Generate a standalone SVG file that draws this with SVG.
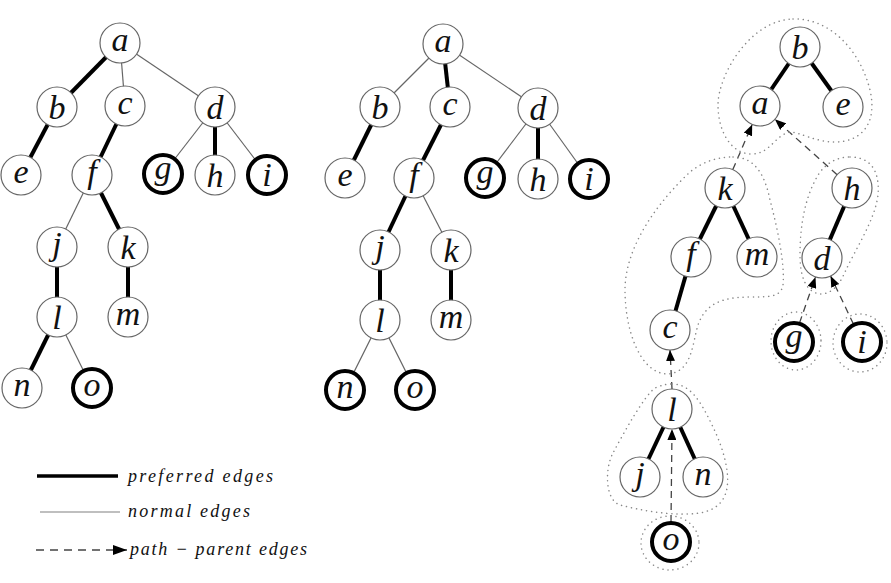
<svg xmlns="http://www.w3.org/2000/svg" width="891" height="583" viewBox="0 0 891 583">
<style>
.n circle{fill:#fff;stroke:#666;stroke-width:1.2}
.n.t circle{stroke:#000;stroke-width:4}
.n text{font-family:"Liberation Serif","Times New Roman",serif;font-style:italic;font-size:34px;text-anchor:middle;fill:#111}
.pe{stroke:#000;stroke-width:4;fill:none}
.ne{stroke:#666;stroke-width:1.2;fill:none}
.pp{stroke:#444;stroke-width:1.3;stroke-dasharray:7,5;fill:none}
.blob{fill:none;stroke:#888;stroke-width:1.5;stroke-dasharray:0.1,5;stroke-linecap:round}
.lg{font-family:"Liberation Serif","Times New Roman",serif;font-style:italic;font-size:18px;fill:#111}
</style>
<defs>
<marker id="arr" markerUnits="userSpaceOnUse" markerWidth="11" markerHeight="9" refX="11" refY="4.5" orient="auto">
<path d="M0,0 L11,4.5 L0,9 z" fill="#000"/>
</marker>
<marker id="arrL" markerUnits="userSpaceOnUse" markerWidth="14" markerHeight="10" refX="14" refY="5" orient="auto">
<path d="M0,0 L14,5 L0,10 z" fill="#000"/>
</marker>
</defs>
<rect width="891" height="583" fill="#fff"/>

<g id="connectors">
<!-- left tree -->
<line class="pe" x1="120" y1="43" x2="57" y2="107"/>
<line class="ne" x1="120" y1="43" x2="125" y2="106"/>
<line class="ne" x1="120" y1="43" x2="215" y2="107"/>
<line class="pe" x1="57" y1="107" x2="21" y2="175"/>
<line class="pe" x1="125" y1="106" x2="92" y2="175"/>
<line class="ne" x1="215" y1="107" x2="163" y2="174"/>
<line class="pe" x1="215" y1="107" x2="215" y2="175"/>
<line class="ne" x1="215" y1="107" x2="267" y2="175"/>
<line class="ne" x1="92" y1="175" x2="57" y2="247"/>
<line class="pe" x1="92" y1="175" x2="128" y2="247"/>
<line class="pe" x1="57" y1="247" x2="57" y2="317"/>
<line class="pe" x1="128" y1="247" x2="128" y2="317"/>
<line class="pe" x1="57" y1="317" x2="22" y2="388"/>
<line class="ne" x1="57" y1="317" x2="92" y2="388"/>
<!-- middle tree -->
<line class="ne" x1="443" y1="44" x2="380" y2="107"/>
<line class="pe" x1="443" y1="44" x2="450" y2="107"/>
<line class="ne" x1="443" y1="44" x2="538" y2="108"/>
<line class="pe" x1="380" y1="107" x2="345" y2="178"/>
<line class="pe" x1="450" y1="107" x2="414" y2="178"/>
<line class="ne" x1="538" y1="108" x2="485" y2="178"/>
<line class="pe" x1="538" y1="108" x2="538" y2="179"/>
<line class="ne" x1="538" y1="108" x2="589" y2="179"/>
<line class="pe" x1="414" y1="178" x2="380" y2="250"/>
<line class="ne" x1="414" y1="178" x2="451" y2="250"/>
<line class="pe" x1="380" y1="250" x2="380" y2="320"/>
<line class="pe" x1="451" y1="250" x2="451" y2="320"/>
<line class="ne" x1="380" y1="320" x2="345" y2="390"/>
<line class="ne" x1="380" y1="320" x2="415" y2="390"/>
<!-- right tree -->
<line class="pe" x1="800" y1="47" x2="760" y2="106"/>
<line class="pe" x1="800" y1="47" x2="843" y2="107"/>
<line class="pe" x1="725" y1="188" x2="691" y2="257"/>
<line class="pe" x1="725" y1="188" x2="757" y2="257"/>
<line class="pe" x1="691" y1="257" x2="670" y2="330"/>
<line class="pe" x1="852" y1="188" x2="822" y2="258"/>
<line class="pe" x1="672" y1="409" x2="640" y2="477"/>
<line class="pe" x1="672" y1="409" x2="703" y2="477"/>
<line class="pp" x1="732.8" y1="169.6" x2="752.2" y2="124.4" marker-end="url(#arr)"/>
<line class="pp" x1="837.1" y1="174.7" x2="774.9" y2="119.3" marker-end="url(#arr)"/>
<line class="pp" x1="799.5" y1="323" x2="815.5" y2="277" marker-end="url(#arr)"/>
<line class="pp" x1="853.4" y1="324" x2="830.6" y2="276" marker-end="url(#arr)"/>
<line class="pp" x1="672" y1="389" x2="670" y2="350" marker-end="url(#arr)"/>
<line class="pp" x1="671" y1="522" x2="672" y2="429" marker-end="url(#arr)"/>
</g>

<g id="groups">
<path class="blob" d="M793,19 C830,18 860,50 870,90 C878,125 860,142 835,142 C815,142 800,132 790,132 C775,135 770,154 752,154 C730,154 718,130 718,105 C718,75 750,20 793,19 Z"/>
<path class="blob" d="M733,157 C755,157 765,175 770,200 C778,230 785,265 783,285 C781,297 770,297 750,297 C720,297 705,305 698,325 C692,345 692,372 668,374 C640,374 625,330 625,290 C625,245 660,200 690,172 C705,160 720,157 733,157 Z"/>
<path class="blob" d="M850,157 C870,157 880,170 878,195 C875,220 855,250 845,272 C838,288 830,294 820,294 C805,292 800,275 800,255 C800,225 805,195 820,172 C828,162 838,157 850,157 Z"/>
<ellipse class="blob" cx="796" cy="341" rx="25" ry="29"/>
<ellipse class="blob" cx="860" cy="343" rx="27" ry="29"/>
<path class="blob" d="M672,384 C690,384 700,400 712,425 C722,445 730,470 727,488 C724,505 712,513 690,514 C665,515 640,510 620,505 C605,500 605,470 612,455 C625,430 645,395 655,388 C662,385 667,384 672,384 Z"/>
<ellipse class="blob" cx="670" cy="543" rx="29" ry="27"/>
</g>

<!-- left tree nodes -->
<g id="L-a" class="n"><circle cx="120" cy="43" r="20"/><text x="120" y="51">a</text></g>
<g id="L-b" class="n"><circle cx="57" cy="107" r="20"/><text x="57" y="119">b</text></g>
<g id="L-c" class="n"><circle cx="125" cy="106" r="20"/><text x="125" y="114">c</text></g>
<g id="L-d" class="n"><circle cx="215" cy="107" r="20"/><text x="215" y="119">d</text></g>
<g id="L-e" class="n"><circle cx="21" cy="175" r="20"/><text x="21" y="183">e</text></g>
<g id="L-f" class="n"><circle cx="92" cy="175" r="20"/><text x="92" y="183">f</text></g>
<g id="L-g" class="n t"><circle cx="163" cy="174" r="19"/><text x="163" y="179">g</text></g>
<g id="L-h" class="n"><circle cx="215" cy="175" r="20"/><text x="215" y="187">h</text></g>
<g id="L-i" class="n t"><circle cx="267" cy="175" r="19"/><text x="267" y="186">i</text></g>
<g id="L-j" class="n"><circle cx="57" cy="247" r="20"/><text x="57" y="255">j</text></g>
<g id="L-k" class="n"><circle cx="128" cy="247" r="20"/><text x="128" y="259">k</text></g>
<g id="L-l" class="n"><circle cx="57" cy="317" r="20"/><text x="57" y="329">l</text></g>
<g id="L-m" class="n"><circle cx="128" cy="317" r="20"/><text x="128" y="325">m</text></g>
<g id="L-n" class="n"><circle cx="22" cy="388" r="20"/><text x="22" y="396">n</text></g>
<g id="L-o" class="n t"><circle cx="92" cy="388" r="19"/><text x="92" y="396">o</text></g>

<!-- middle tree nodes -->
<g id="M-a" class="n"><circle cx="443" cy="44" r="20"/><text x="443" y="52">a</text></g>
<g id="M-b" class="n"><circle cx="380" cy="107" r="20"/><text x="380" y="119">b</text></g>
<g id="M-c" class="n"><circle cx="450" cy="107" r="20"/><text x="450" y="115">c</text></g>
<g id="M-d" class="n"><circle cx="538" cy="108" r="20"/><text x="538" y="120">d</text></g>
<g id="M-e" class="n"><circle cx="345" cy="178" r="20"/><text x="345" y="186">e</text></g>
<g id="M-f" class="n"><circle cx="414" cy="178" r="20"/><text x="414" y="186">f</text></g>
<g id="M-g" class="n t"><circle cx="485" cy="178" r="19"/><text x="485" y="183">g</text></g>
<g id="M-h" class="n"><circle cx="538" cy="179" r="20"/><text x="538" y="191">h</text></g>
<g id="M-i" class="n t"><circle cx="589" cy="179" r="19"/><text x="589" y="190">i</text></g>
<g id="M-j" class="n"><circle cx="380" cy="250" r="20"/><text x="380" y="258">j</text></g>
<g id="M-k" class="n"><circle cx="451" cy="250" r="20"/><text x="451" y="262">k</text></g>
<g id="M-l" class="n"><circle cx="380" cy="320" r="20"/><text x="380" y="332">l</text></g>
<g id="M-m" class="n"><circle cx="451" cy="320" r="20"/><text x="451" y="328">m</text></g>
<g id="M-n" class="n t"><circle cx="345" cy="390" r="19"/><text x="345" y="398">n</text></g>
<g id="M-o" class="n t"><circle cx="415" cy="390" r="19"/><text x="415" y="398">o</text></g>

<!-- right tree nodes -->
<g id="R-b" class="n"><circle cx="800" cy="47" r="20"/><text x="800" y="59">b</text></g>
<g id="R-a" class="n"><circle cx="760" cy="106" r="20"/><text x="760" y="114">a</text></g>
<g id="R-e" class="n"><circle cx="843" cy="107" r="20"/><text x="843" y="115">e</text></g>
<g id="R-k" class="n"><circle cx="725" cy="188" r="20"/><text x="725" y="200">k</text></g>
<g id="R-h" class="n"><circle cx="852" cy="188" r="20"/><text x="852" y="200">h</text></g>
<g id="R-f" class="n"><circle cx="691" cy="257" r="20"/><text x="691" y="265">f</text></g>
<g id="R-m" class="n"><circle cx="757" cy="257" r="20"/><text x="757" y="265">m</text></g>
<g id="R-d" class="n"><circle cx="822" cy="258" r="20"/><text x="822" y="270">d</text></g>
<g id="R-c" class="n"><circle cx="670" cy="330" r="20"/><text x="670" y="338">c</text></g>
<g id="R-g" class="n t"><circle cx="794" cy="342" r="19"/><text x="794" y="347">g</text></g>
<g id="R-i" class="n t"><circle cx="862" cy="342" r="19"/><text x="862" y="353">i</text></g>
<g id="R-l" class="n"><circle cx="672" cy="409" r="20"/><text x="672" y="421">l</text></g>
<g id="R-j" class="n"><circle cx="640" cy="477" r="20"/><text x="640" y="485">j</text></g>
<g id="R-n" class="n"><circle cx="703" cy="477" r="20"/><text x="703" y="485">n</text></g>
<g id="R-o" class="n t"><circle cx="671" cy="542" r="19"/><text x="671" y="550">o</text></g>

<g id="legend">
<line x1="37" y1="476" x2="118" y2="476" stroke="#000" stroke-width="3.5"/>
<text class="lg" x="128" y="482" textLength="145" lengthAdjust="spacing">preferred edges</text>
<line x1="40" y1="512" x2="120" y2="512" stroke="#aaa" stroke-width="1.6"/>
<text class="lg" x="128" y="517" textLength="122" lengthAdjust="spacing">normal edges</text>
<line x1="36" y1="550" x2="127" y2="550" stroke="#444" stroke-width="1.3" stroke-dasharray="8,6" marker-end="url(#arrL)"/>
<text class="lg" x="130" y="555" textLength="177" lengthAdjust="spacing">path − parent edges</text>
</g>
</svg>
